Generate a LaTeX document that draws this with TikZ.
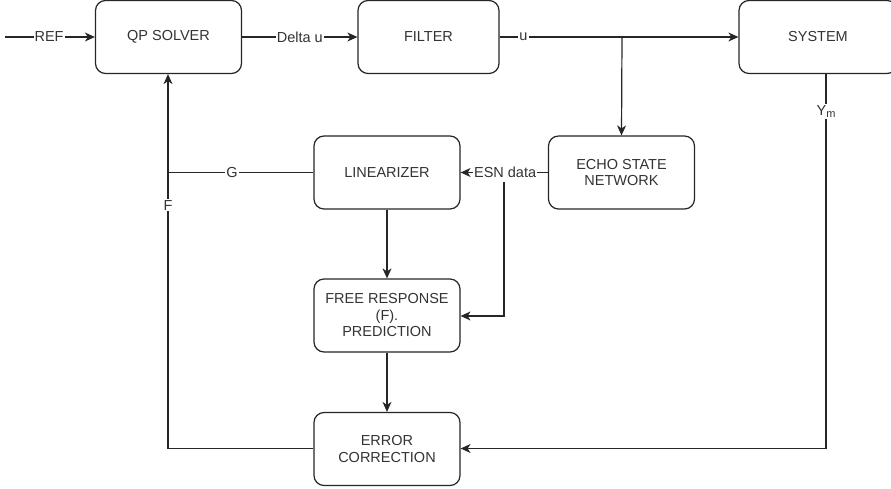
\documentclass[tikz,border=0pt]{standalone}
\usepackage{fontspec}
\setmainfont{Liberation Sans}
\usetikzlibrary{arrows.meta}
\definecolor{txt}{HTML}{333333}
\tikzset{
  block/.style={draw=black!85, line width=1.2pt, rounded corners=10pt, fill=white,
    minimum width=#1, minimum height=73pt, inner sep=0pt, align=center,
    text=txt, font=\fontsize{14.5pt}{16.5pt}\selectfont},
  block/.default=146pt,
  wire/.style={draw=black!85, line width=1.2pt},
  flow/.style={wire, -{Stealth[length=10pt,width=9pt,inset=3pt]}},
  tag/.style={fill=white, inner sep=1pt, text=txt, font=\fontsize{14.5pt}{16pt}\selectfont}
}
\newcommand{\lowidx}[1]{\raisebox{-0.3ex}{\fontsize{11pt}{12pt}\selectfont #1}}
\begin{document}
\begin{tikzpicture}[x=1pt,y=-1pt]
\useasboundingbox (0,0) rectangle (891,489);
\clip (0,0) rectangle (891,489);

% blocks
\node[block] (qp)  at (168.5,37) {QP SOLVER};
\node[block=141pt] (flt) at (428.5,37) {FILTER};
\node[block=158pt] (sys) at (818,37) {SYSTEM};
\node[block] (esn) at (621.5,172.5) {ECHO STATE\\NETWORK};
\node[block] (lin) at (387,172.5) {LINEARIZER};
\node[block] (frp) at (387,315.5) {FREE RESPONSE\\(F).\\PREDICTION};
\node[block] (err) at (387,449) {ERROR\\CORRECTION};

% helper points
\coordinate (in)  at (5,37);
\coordinate (br)  at (622,37);
\coordinate (esnb) at (504,172.5);
\coordinate (frpr) at (504,316);
\coordinate (ym)  at (826,448.5);
\coordinate (fb)  at (168,448.5);
\coordinate (gj)  at (168,172.5);

% forward path
\draw[flow] (in) -- node[tag,pos=0.49] {REF} (qp.west);
\draw[flow] (qp.east) -- node[tag,pos=0.5] {Delta u} (flt.west);
\draw[flow] (flt.east) -- node[tag,pos=0.1] {u} (sys.west);
\draw[flow] (br) -- (esn.north);

% ESN data to linearizer and free response
\draw[flow] (esn.west) -- node[tag,pos=0.49] {ESN data} (lin.east);
\draw[flow] (esnb) ++(0,10) -- (frpr) -- (frp.east |- frpr);

% linearizer chain
\draw[flow] (lin.south) -- (frp.north);
\draw[flow] (frp.south) -- (err.north);

% measured output
\draw[flow] (sys.south -| ym) -- node[tag,pos=0.1] {Y\lowidx{m}} (ym) -- (err.east |- ym);

% feedback to the solver
\draw[flow] (err.west |- fb) -- (fb) -- node[tag,pos=0.65] {F} (qp.south -| fb);
\draw[wire] (lin.west) -- node[tag,pos=0.56] {G} (gj);
\end{tikzpicture}
\end{document}
